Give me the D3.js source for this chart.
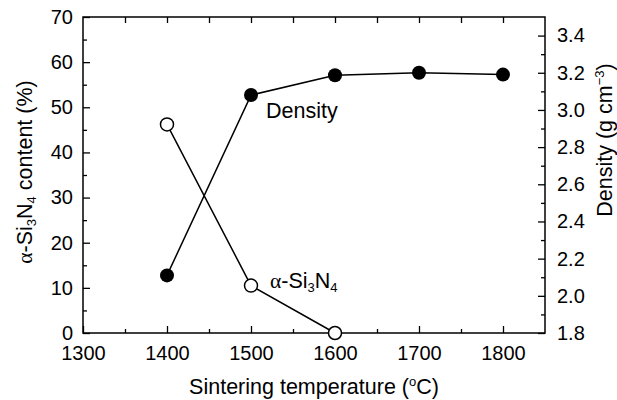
<!DOCTYPE html>
<html><head><meta charset="utf-8">
<script src="https://cdn.jsdelivr.net/npm/d3@7"></script>
<style>body{margin:0;background:#fff}text{font-family:"Liberation Sans",Arial,sans-serif;fill:#000}</style>
</head><body><svg id="c" width="617" height="400"></svg>
<script>
const temps = [1400, 1500, 1600, 1700, 1800];
const densityVals = [2.11, 3.08, 3.187, 3.20, 3.19];
const alphaTemps = [1400, 1500, 1600];
const alphaVals = [46.2, 10.5, 0];
const xTicks = [1300, 1400, 1500, 1600, 1700, 1800];
const leftTicks = [0, 10, 20, 30, 40, 50, 60, 70];
const rightTicks = [1.8, 2.0, 2.2, 2.4, 2.6, 2.8, 3.0, 3.2, 3.4];

const svg = d3.select("#c");
const L = 83, R = 545, T = 17, B = 333;
const x = d3.scaleLinear().domain([1300, 1850]).range([L, R]);
const yl = d3.scaleLinear().domain([0, 70]).range([B, T]);
const yr = d3.scaleLinear().domain([1.8, 3.5]).range([B, T]);
const fs = 20, ts = 21.5, ss = 13;
const serif = '"Liberation Serif","Times New Roman",serif';

// frame
svg.append("rect").attr("x", L).attr("y", T).attr("width", R - L).attr("height", B - T)
  .attr("fill", "none").attr("stroke", "#000").attr("stroke-width", 1.5);

// bottom axis
svg.append("g").attr("transform", `translate(0,${B})`)
  .call(d3.axisBottom(x).tickValues(xTicks).tickSize(-7).tickPadding(13).tickFormat(d3.format("d")));
svg.append("g").attr("transform", `translate(0,${B})`)
  .call(d3.axisBottom(x).tickValues(d3.range(1350, 1850, 100)).tickSize(-4).tickFormat(""));
// top axis ticks
svg.append("g").attr("transform", `translate(0,${T})`)
  .call(d3.axisTop(x).tickValues(d3.range(1350, 1850, 50)).tickSize(-6).tickFormat(""));
// left axis
svg.append("g").attr("transform", `translate(${L},0)`)
  .call(d3.axisLeft(yl).tickValues(leftTicks).tickSize(-7).tickPadding(10).tickFormat(d3.format("d")));
svg.append("g").attr("transform", `translate(${L},0)`)
  .call(d3.axisLeft(yl).tickValues(d3.range(5, 70, 10)).tickSize(-4).tickFormat(""));
// right axis
svg.append("g").attr("transform", `translate(${R},0)`)
  .call(d3.axisRight(yr).tickValues(rightTicks).tickSize(-7).tickPadding(12).tickFormat(d3.format(".1f")));
svg.append("g").attr("transform", `translate(${R},0)`)
  .call(d3.axisRight(yr).tickValues(d3.range(1.9, 3.5, 0.2)).tickSize(-4).tickFormat(""));

svg.selectAll(".domain").remove();
svg.selectAll(".tick line").attr("stroke", "#000").attr("stroke-width", 1.3);
svg.selectAll(".tick text").style("font-size", fs + "px").style("font-family", null);

// lines
const line = (ys) => d3.line().x(d => x(d[0])).y(d => ys(d[1]));
const dData = temps.map((t, i) => [t, densityVals[i]]);
const aData = alphaTemps.map((t, i) => [t, alphaVals[i]]);
svg.append("path").datum(aData).attr("d", line(yl)).attr("fill", "none").attr("stroke", "#000").attr("stroke-width", 1.5);
svg.append("path").datum(dData).attr("d", line(yr)).attr("fill", "none").attr("stroke", "#000").attr("stroke-width", 1.5);
svg.selectAll(".a").data(aData).enter().append("circle")
  .attr("cx", d => x(d[0])).attr("cy", d => yl(d[1])).attr("r", 6.5)
  .attr("fill", "#fff").attr("stroke", "#000").attr("stroke-width", 1.5);
svg.selectAll(".d").data(dData).enter().append("circle")
  .attr("cx", d => x(d[0])).attr("cy", d => yr(d[1])).attr("r", 7)
  .attr("fill", "#000");

function alphaLabel(t) {
  t.append("tspan").style("font-family", serif).text("α");
  t.append("tspan").text("-Si");
  t.append("tspan").attr("dy", 4).style("font-size", ss + "px").text("3");
  t.append("tspan").attr("dy", -4).text("N");
  t.append("tspan").attr("dy", 4).style("font-size", ss + "px").text("4");
}

// in-plot labels
svg.append("text").attr("x", 266).attr("y", 118).style("font-size", ts + "px").text("Density");
const al = svg.append("text").attr("x", 270).attr("y", 288).style("font-size", ts + "px");
alphaLabel(al);

// axis titles
const xt = svg.append("text").attr("x", 314).attr("y", 394).attr("text-anchor", "middle").style("font-size", ts + "px");
xt.append("tspan").text("Sintering temperature (");
xt.append("tspan").attr("dy", -8).style("font-size", ss + "px").text("o");
xt.append("tspan").attr("dy", 8).text("C)");

const ylt = svg.append("text").attr("transform", "translate(32,172) rotate(-90)").attr("text-anchor", "middle").style("font-size", ts + "px");
alphaLabel(ylt);
ylt.append("tspan").attr("dy", -4).text(" content (%)");

const yrt = svg.append("text").attr("transform", "translate(612,140) rotate(-90)").attr("text-anchor", "middle").style("font-size", ts + "px");
yrt.append("tspan").text("Density (g cm");
yrt.append("tspan").attr("dy", -8).style("font-size", ss + "px").text("−3");
yrt.append("tspan").attr("dy", 8).text(")");
</script></body></html>
